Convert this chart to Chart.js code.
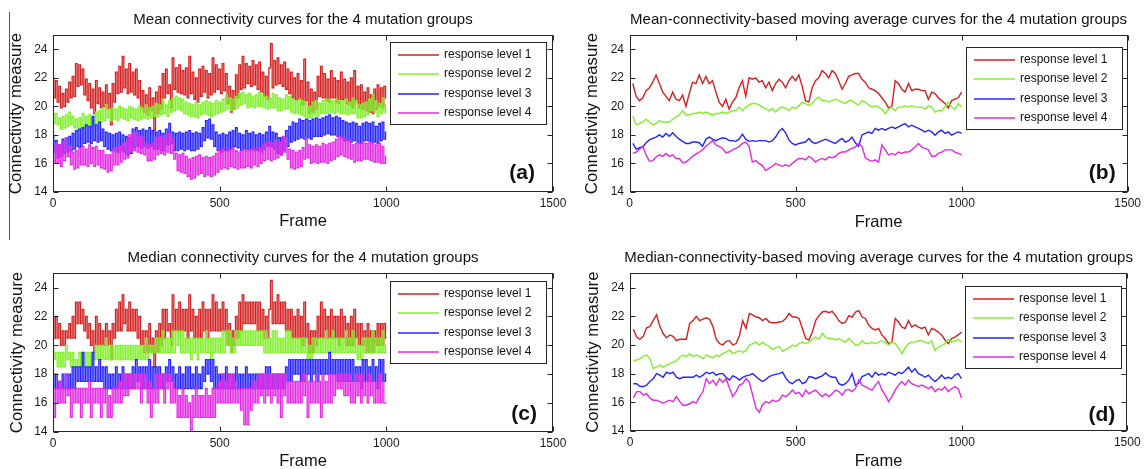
<!DOCTYPE html>
<html><head><meta charset="utf-8">
<script src="https://cdn.jsdelivr.net/npm/chart.js@4.4.1/dist/chart.umd.min.js"></script>
<style>
html,body{margin:0;padding:0;background:#fff;}
body{width:1145px;height:469px;position:relative;overflow:hidden;}
canvas{position:absolute;}
#vline{position:absolute;left:9px;top:12px;width:1px;height:228px;background:#555;}
</style></head><body>
<div id="vline"></div>
<canvas id="pa" width="572" height="245" style="left:0px;top:0px"></canvas>
<canvas id="pb" width="573" height="245" style="left:572px;top:0px"></canvas>
<canvas id="pc" width="572" height="245" style="left:0px;top:235px"></canvas>
<canvas id="pd" width="573" height="245" style="left:572px;top:235px"></canvas>
<script>
// ---------------- DATA ----------------
const seriesLabels = ['response level 1','response level 2','response level 3','response level 4'];
const panelTitles = [
  'Mean connectivity curves for the 4 mutation groups',
  'Mean-connectivity-based moving average curves for the 4 mutation groups',
  'Median connectivity curves for the 4 mutation groups',
  'Median-connectivity-based moving average curves for the 4 mutation groups'
];
const panelTags = ['(a)','(b)','(c)','(d)'];
const xAxisTitle = 'Frame';
const yAxisTitle = 'Connectivity measure';
const xTickValues = [0,500,1000,1500];
const xTickLabels = ['0','500','1000','1500'];
const yTickValues = [14,16,18,20,22,24];
const yTickLabels = ['14','16','18','20','22','24'];

const rawFrames = [
0,5,10,15,20,25,30,35,40,45,50,55,60,65,70,75,80,85,90,95,
100,105,110,115,120,125,130,135,140,145,150,155,160,165,170,175,180,185,190,195,
200,205,210,215,220,225,230,235,240,245,250,255,260,265,270,275,280,285,290,295,
300,305,310,315,320,325,330,335,340,345,350,355,360,365,370,375,380,385,390,395,
400,405,410,415,420,425,430,435,440,445,450,455,460,465,470,475,480,485,490,495,
500,505,510,515,520,525,530,535,540,545,550,555,560,565,570,575,580,585,590,595,
600,605,610,615,620,625,630,635,640,645,650,655,660,665,670,675,680,685,690,695,
700,705,710,715,720,725,730,735,740,745,750,755,760,765,770,775,780,785,790,795,
800,805,810,815,820,825,830,835,840,845,850,855,860,865,870,875,880,885,890,895,
900,905,910,915,920,925,930,935,940,945,950,955,960,965,970,975,980,985,990,995,
1000];

const avgFrames = [
10,20,30,40,50,60,70,80,90,100,110,120,130,140,150,160,170,180,190,200,
210,220,230,240,250,260,270,280,290,300,310,320,330,340,350,360,370,380,390,400,
410,420,430,440,450,460,470,480,490,500,510,520,530,540,550,560,570,580,590,600,
610,620,630,640,650,660,670,680,690,700,710,720,730,740,750,760,770,780,790,800,
810,820,830,840,850,860,870,880,890,900,910,920,930,940,950,960,970,980,990,1000];

// (a) mean connectivity, raw
const meanLevel1 = [
22.0,20.6,21.8,20.3,21.4,19.9,20.9,20.0,21.2,20.3,21.7,20.6,22.1,20.7,23.0,21.4,22.9,21.5,22.6,20.8,
21.9,20.4,21.6,19.9,21.2,19.5,21.8,20.2,21.3,19.9,21.0,20.0,21.5,19.8,20.9,18.7,21.6,20.3,22.4,20.9,
22.8,21.0,23.5,21.3,22.6,20.9,23.0,21.0,22.4,20.8,22.6,20.6,21.8,19.9,21.1,19.6,20.8,19.4,21.3,19.7,
20.6,18.3,21.0,19.5,21.4,19.8,22.3,20.6,22.6,20.9,21.5,19.9,23.4,21.2,22.7,21.0,22.9,20.9,22.5,20.8,
22.7,20.6,23.5,20.9,22.4,20.5,22.0,20.3,22.6,20.7,22.8,21.0,22.5,20.6,22.3,20.8,23.4,21.0,22.9,21.2,
22.6,20.9,23.0,21.1,22.3,20.2,21.4,19.6,21.1,19.8,22.2,20.6,22.9,21.2,23.5,21.3,23.0,21.6,22.8,21.4,
23.2,21.5,22.9,21.2,23.1,21.0,22.4,20.7,22.1,20.5,22.7,24.4,21.3,23.2,21.5,23.4,21.6,22.9,21.4,23.1,
21.2,22.6,20.9,22.4,20.6,22.0,20.4,22.3,20.5,21.8,20.1,23.3,20.4,21.7,19.5,21.2,19.6,21.0,19.8,22.1,
20.7,22.8,20.6,22.3,20.4,21.9,20.3,22.5,20.6,22.0,20.3,21.8,20.2,22.4,20.5,21.9,20.2,21.7,20.1,22.0,
19.9,22.5,20.3,21.4,19.9,21.5,19.8,21.0,19.7,21.3,19.6,20.8,19.5,21.2,19.8,21.5,20.0,21.3,19.9,21.4,
20.6];
const meanLevel2 = [
19.6,18.8,19.5,18.7,19.2,18.4,19.3,18.5,19.4,18.6,19.6,18.7,19.3,18.5,19.1,18.3,19.2,18.4,19.5,18.6,
19.3,18.6,19.4,18.5,19.2,18.7,19.6,18.8,19.7,18.9,19.9,19.0,20.1,19.2,19.8,19.0,19.9,19.1,19.8,19.0,
20.0,19.2,19.9,19.1,19.8,19.0,20.0,19.2,19.9,19.1,19.8,19.0,20.0,19.1,19.9,19.2,20.1,19.1,19.9,19.2,
20.0,19.3,20.2,19.3,20.1,19.4,20.5,19.5,20.1,19.3,20.4,19.6,20.6,19.7,20.7,19.8,20.6,19.7,20.5,19.5,
20.3,19.4,20.2,19.3,20.1,19.3,20.3,19.2,20.1,19.4,20.3,19.5,20.4,19.4,20.3,19.3,20.2,19.4,20.4,19.5,
20.3,19.6,20.5,19.7,20.8,19.8,20.6,19.7,20.5,19.8,20.7,19.9,20.9,20.1,21.0,20.2,20.8,19.9,20.9,20.0,
20.7,19.9,20.8,20.0,21.0,20.0,20.8,19.9,20.7,19.8,20.6,19.9,20.9,19.9,20.8,19.7,20.6,19.7,20.5,19.8,
20.8,19.8,20.7,19.6,20.5,19.5,20.4,19.5,20.5,19.4,20.4,19.3,20.3,19.1,20.0,19.2,20.3,19.4,20.4,19.3,
20.2,19.5,20.4,19.5,20.5,19.5,20.5,19.6,20.4,19.5,20.5,19.6,20.4,19.5,20.4,19.5,20.5,19.4,20.3,19.5,
20.6,19.5,20.4,19.2,20.1,19.2,20.2,19.3,20.3,19.4,20.5,19.7,20.8,19.6,20.4,19.3,20.2,19.5,20.6,19.6,
20.1];
const meanLevel3 = [
17.9,16.8,17.6,16.4,17.3,16.5,17.7,16.7,17.8,16.8,17.9,16.9,18.1,17.0,18.3,17.2,18.4,17.2,18.5,17.4,
18.7,17.5,18.6,17.4,19.3,17.6,18.7,17.5,18.9,17.6,18.4,17.2,18.2,17.0,18.1,16.9,18.0,16.9,18.1,16.8,
18.2,16.9,18.0,16.8,17.9,16.6,17.8,16.7,18.4,17.1,18.5,17.2,18.3,17.1,18.4,17.2,18.3,17.1,18.5,17.2,
18.3,17.0,18.2,17.0,18.3,16.9,18.1,16.9,18.4,17.3,18.8,17.4,18.2,16.9,18.1,16.9,18.2,17.0,18.1,16.9,
18.2,17.0,18.3,16.9,18.1,16.9,18.2,17.0,18.1,17.2,18.5,17.6,19.0,17.8,19.1,17.7,18.7,17.2,18.2,16.9,
18.0,16.8,18.1,16.9,18.0,16.9,18.2,17.0,18.3,17.2,18.5,17.1,18.1,16.9,18.0,17.0,18.3,17.0,18.1,17.0,
18.2,16.9,18.0,16.9,18.1,16.8,18.0,17.0,18.2,17.2,18.6,17.2,18.2,17.0,18.1,16.7,17.8,16.6,17.8,16.9,
18.3,17.2,18.6,17.5,18.9,17.6,18.8,17.7,19.1,17.8,19.0,17.7,19.1,17.8,19.0,17.7,19.1,17.9,19.2,17.9,
19.1,17.9,19.2,18.0,19.3,18.1,19.4,18.0,19.2,18.0,19.3,17.9,19.2,17.8,19.0,17.6,18.9,17.6,18.8,17.5,
18.9,17.6,18.8,17.5,18.6,17.4,18.8,17.6,18.9,17.6,18.8,17.5,18.9,17.5,18.6,17.4,18.8,17.6,18.9,17.7,
18.2];
const meanLevel4 = [
17.2,16.1,17.4,16.0,17.3,15.8,17.5,16.2,17.8,16.5,17.2,15.9,16.8,15.6,16.9,15.7,17.1,15.9,17.2,15.9,
17.0,15.8,17.3,16.0,17.1,15.8,17.2,15.9,16.9,15.7,16.9,15.6,16.6,15.4,16.6,15.5,17.0,15.9,17.1,15.9,
17.2,16.1,17.4,16.3,17.5,16.4,18.0,16.8,18.1,16.9,18.2,16.8,17.9,16.7,17.8,16.6,17.4,16.2,17.3,16.2,
17.4,16.3,17.8,16.6,17.9,16.7,17.8,16.6,18.0,16.8,18.1,16.7,17.7,16.3,16.7,15.5,16.6,15.4,16.7,15.3,
16.5,15.1,16.3,14.9,16.4,15.0,16.5,15.2,16.6,15.3,16.4,15.1,16.5,15.2,16.4,15.1,16.5,15.2,16.7,15.4,
16.9,15.6,17.0,15.7,16.9,15.6,17.0,15.8,17.1,15.7,16.9,15.6,16.8,15.7,17.0,15.7,16.9,15.8,16.9,15.7,
17.1,15.9,17.0,15.8,17.1,16.0,17.3,16.2,17.4,16.3,17.5,16.2,17.4,16.3,17.6,16.4,17.5,16.6,17.9,16.8,
17.8,16.3,17.0,15.7,16.9,15.6,16.8,15.7,16.9,15.8,17.1,16.3,17.8,16.4,17.3,16.0,17.2,16.1,17.3,16.0,
17.2,16.1,17.4,16.1,17.3,16.0,17.4,16.2,17.5,16.3,17.7,16.5,17.9,16.6,17.8,16.5,17.7,16.4,17.6,16.3,
17.3,16.1,17.4,16.2,17.4,16.2,17.5,16.3,17.4,16.3,17.5,16.2,17.4,16.1,17.3,16.1,17.4,16.0,17.2,16.0,
16.5];

// (b) moving averages of mean connectivity
const meanMA1 = [
21.6,20.7,20.4,20.6,21.1,21.3,21.7,22.2,21.6,21.0,
20.7,20.4,21.0,20.5,20.4,20.8,20.0,20.9,21.7,21.6,
22.2,21.6,22.1,21.6,21.8,21.0,20.3,20.0,20.5,19.8,
20.3,20.6,21.3,21.8,20.7,22.0,21.9,22.0,21.7,21.8,
21.3,21.7,21.1,21.6,21.9,21.7,21.3,21.8,22.1,21.8,
22.2,21.4,20.4,20.3,21.3,21.8,22.0,22.5,22.3,22.0,
22.5,22.3,21.8,21.2,21.6,22.1,22.2,22.3,22.3,21.9,
21.7,21.3,21.2,21.1,20.9,20.6,20.3,19.9,20.0,21.8,
21.6,21.2,21.0,21.6,21.1,21.2,21.2,21.1,21.1,20.5,
21.0,20.9,20.6,20.4,20.2,19.9,20.4,20.5,20.6,21.0];
const meanMA2 = [
19.3,18.7,18.8,18.9,19.1,18.9,18.7,18.8,19.0,18.9,
18.9,18.9,19.1,19.25,19.4,19.7,19.4,19.4,19.5,19.5,
19.6,19.5,19.6,19.5,19.4,19.5,19.5,19.6,19.5,19.6,
19.7,19.7,19.95,19.7,19.95,20.1,20.2,20.2,20.1,19.95,
19.85,19.7,19.85,19.6,19.85,19.95,19.85,19.7,19.95,19.85,
20.05,20.3,20.2,20.05,20.2,20.5,20.65,20.4,20.4,20.3,
20.4,20.5,20.4,20.3,20.2,20.4,20.4,20.2,20.1,20.4,
20.3,20.1,19.95,20.05,19.95,19.8,19.5,19.8,19.95,19.7,
19.95,19.95,20.05,19.95,20.05,19.95,19.95,19.95,19.8,20.05,
19.95,19.6,19.7,19.7,19.95,20.3,19.95,19.8,20.2,19.95];
const meanMA3 = [
17.4,17.0,17.1,17.15,17.45,17.65,17.75,17.85,18.0,17.85,
18.1,17.9,18.15,17.9,17.7,17.55,17.4,17.4,17.5,17.5,
17.45,17.2,17.7,17.85,17.7,17.6,17.7,17.8,17.75,17.6,
17.6,17.55,17.7,18.05,17.7,17.55,17.6,17.55,17.6,17.6,
17.6,17.5,17.6,17.85,18.25,18.45,18.15,17.65,17.4,17.3,
17.4,17.45,17.5,17.75,17.5,17.4,17.5,17.6,17.7,17.6,
17.5,17.4,17.6,17.75,17.5,17.6,17.85,17.45,17.2,18.0,
18.1,18.2,18.1,18.45,18.33,18.45,18.33,18.45,18.56,18.45,
18.56,18.68,18.79,18.56,18.68,18.56,18.45,18.33,18.21,18.33,
18.21,17.98,18.21,18.33,18.1,18.21,17.98,18.1,18.21,18.1];
const meanMA4 = [
16.7,16.8,17.0,17.2,16.6,16.15,16.2,16.45,16.6,16.5,
16.7,16.5,16.6,16.35,16.35,16.05,16.1,16.3,16.5,16.65,
16.8,16.95,17.2,17.4,17.6,17.3,17.2,17.05,16.75,16.8,
16.95,17.05,17.2,17.4,17.5,17.2,16.1,16.2,16.0,15.85,
15.5,15.65,15.8,16.0,15.9,15.8,15.9,15.8,16.0,16.2,
16.35,16.35,16.25,16.5,16.35,16.1,16.25,16.35,16.25,16.45,
16.4,16.5,16.7,16.8,16.8,16.95,17.05,17.15,17.4,17.2,
16.4,16.25,16.15,16.25,16.1,17.3,16.95,16.6,16.7,16.6,
16.8,16.7,16.8,16.8,16.95,17.15,17.4,17.15,17.05,16.95,
16.5,16.5,16.7,16.8,16.95,16.95,16.95,16.8,16.7,16.6];

// (c) median connectivity, raw
const medianLevel1 = [
22.0,20.5,22.0,20.5,21.5,20.0,21.0,20.0,21.0,20.5,21.5,20.5,22.0,20.5,23.0,21.5,23.0,21.5,22.5,21.0,
22.0,20.5,21.5,20.0,21.0,19.5,22.0,20.0,21.5,20.0,21.0,20.0,21.5,20.0,21.0,19.0,21.5,20.5,22.5,21.0,
23.0,21.0,23.5,21.5,22.5,21.0,23.0,21.0,22.5,21.0,22.5,20.5,22.0,20.0,21.0,19.5,21.0,19.5,21.5,19.5,
20.5,18.5,21.0,19.5,21.5,20.0,22.5,20.5,22.5,21.0,21.5,20.0,23.5,21.0,22.5,21.0,23.0,21.0,22.5,21.0,
22.5,20.5,23.5,21.0,22.5,20.5,22.0,20.5,22.5,20.5,23.0,21.0,22.5,20.5,22.5,21.0,23.5,21.0,23.0,21.0,
22.5,21.0,23.0,21.0,22.5,20.0,21.5,19.5,21.0,20.0,22.0,20.5,23.0,21.0,23.5,21.5,23.0,21.5,23.0,21.5,
23.0,21.5,23.0,21.0,23.0,21.0,22.5,20.5,22.0,20.5,22.5,24.5,21.5,23.0,21.5,23.5,21.5,23.0,21.5,23.0,
21.0,22.5,21.0,22.5,20.5,22.0,20.5,22.5,20.5,22.0,20.0,23.0,20.5,21.5,19.5,21.0,19.5,21.0,20.0,22.0,
20.5,23.0,20.5,22.5,20.5,22.0,20.5,22.5,20.5,22.0,20.5,22.0,20.0,22.5,20.5,22.0,20.0,21.5,20.0,22.0,
20.0,22.5,20.5,21.5,20.0,21.5,20.0,21.0,19.5,21.5,19.5,21.0,19.5,21.0,20.0,21.5,20.0,21.5,20.0,21.5,
20.5];
const medianLevel2 = [
20.0,19.0,19.5,18.5,19.5,18.5,19.5,18.5,20.0,19.0,19.5,18.5,19.5,18.5,19.0,18.5,19.5,18.5,19.5,18.5,
19.5,18.5,19.5,18.5,19.5,19.0,20.0,19.0,20.0,19.0,20.0,19.0,20.5,19.0,20.0,19.0,20.0,19.0,20.0,19.0,
20.0,19.0,20.0,19.0,20.0,19.0,20.0,19.0,20.0,19.0,20.0,19.0,20.0,19.0,20.0,19.0,20.5,19.0,20.0,19.5,
20.0,19.5,20.5,19.5,20.5,19.5,21.0,19.5,20.5,19.5,20.5,19.5,21.0,19.5,21.0,20.0,21.0,19.5,21.0,19.5,
20.5,19.5,20.5,19.0,20.5,19.5,20.5,19.0,20.5,19.5,20.5,19.5,21.0,19.5,20.5,19.0,20.5,19.5,20.5,19.5,
20.5,19.5,21.0,19.5,21.0,20.0,21.0,19.5,20.5,19.5,21.0,20.0,21.0,20.0,21.0,20.0,21.0,20.0,21.0,20.0,
21.0,20.0,21.0,20.0,21.0,20.0,21.0,19.5,21.0,19.5,20.5,19.5,21.0,19.5,21.0,19.5,20.5,19.5,20.5,19.5,
21.0,19.5,21.0,19.5,20.5,19.5,20.5,19.5,20.5,19.5,20.5,19.5,20.5,19.0,20.0,19.0,20.5,19.5,20.5,19.5,
20.5,19.5,20.5,19.5,21.0,19.5,20.5,19.5,21.0,19.5,20.5,19.5,20.5,19.5,20.5,19.5,21.0,19.5,20.5,19.5,
21.0,19.5,20.5,19.0,20.0,19.0,20.5,19.5,20.5,19.5,20.5,19.5,21.0,19.5,20.5,19.5,20.5,19.5,21.0,19.5,
20.0];
const medianLevel3 = [
18.0,17.0,18.0,17.0,17.5,17.0,18.0,17.0,18.0,17.0,18.0,17.0,18.5,17.0,18.5,17.5,18.5,17.5,19.5,17.5,
18.5,17.5,18.5,17.5,19.5,17.5,18.5,17.5,19.0,17.5,18.5,17.0,18.5,17.0,18.0,17.0,18.0,17.0,18.5,17.0,
18.0,17.0,18.5,17.0,18.0,17.0,18.0,17.0,18.5,17.0,19.0,17.5,18.5,17.0,18.5,17.0,18.5,17.0,19.0,17.0,
18.5,17.0,18.5,17.0,18.5,17.0,18.0,17.0,18.5,17.5,19.0,17.5,18.5,17.0,18.0,17.0,18.5,17.0,18.0,17.0,
18.5,17.0,18.5,17.0,18.0,17.0,18.5,17.0,18.0,17.0,18.5,17.5,19.0,18.0,19.0,17.5,19.0,17.0,18.5,17.0,
18.0,17.0,18.0,17.0,18.5,17.0,18.0,17.0,18.0,17.0,18.5,17.0,18.0,17.0,18.0,17.0,18.5,17.0,18.0,17.0,
18.0,17.0,18.0,17.0,18.0,17.0,18.0,17.0,18.5,17.0,18.5,17.0,18.0,17.0,18.0,17.0,18.0,17.0,18.0,17.0,
18.5,17.5,19.0,17.5,19.0,18.0,19.0,18.0,19.0,17.5,19.0,17.5,19.0,18.0,19.0,17.5,19.0,18.0,19.0,17.5,
19.0,18.0,19.0,18.0,19.0,18.0,19.5,18.0,19.0,18.0,19.0,17.5,19.0,17.5,19.0,17.5,19.0,17.5,19.0,17.5,
19.0,17.5,18.5,17.5,18.5,17.0,19.0,17.5,19.0,17.5,18.5,17.5,19.0,17.5,18.5,17.0,19.0,17.5,19.0,17.5,
18.0];
const medianLevel4 = [
17.0,15.0,17.0,16.0,17.5,16.0,17.0,16.0,18.0,16.5,17.0,15.0,17.0,16.0,17.0,16.0,17.0,15.0,17.0,16.0,
17.0,16.0,17.5,15.0,17.0,16.0,17.0,16.0,17.0,15.0,17.0,16.0,17.0,15.0,16.5,15.0,17.0,16.0,17.0,16.0,
17.5,16.0,18.0,16.5,18.0,16.5,18.0,17.0,18.0,17.0,18.0,17.0,18.0,16.0,18.0,17.0,18.0,16.0,17.5,15.0,
17.0,16.0,18.0,16.0,18.0,17.0,18.0,16.0,18.0,17.0,18.0,16.0,17.5,16.0,17.0,15.0,16.5,15.0,17.0,15.0,
16.5,15.0,16.0,14.0,16.5,15.0,17.0,15.0,16.5,15.0,16.5,15.0,17.0,15.0,16.5,15.0,17.0,15.0,17.0,16.0,
17.5,16.0,18.0,16.0,17.5,16.0,18.0,16.0,18.0,16.0,17.5,16.0,17.0,15.5,17.0,14.5,17.0,14.5,17.0,15.5,
17.5,16.0,17.5,16.0,18.0,16.5,18.0,16.0,18.0,16.5,18.0,16.0,18.0,16.5,18.0,16.0,18.0,15.0,18.0,16.5,
18.0,16.0,17.5,16.0,17.5,16.0,17.5,16.0,17.5,16.0,18.0,16.5,18.0,15.0,17.5,16.0,17.5,16.0,18.0,16.0,
17.5,15.0,18.0,16.0,17.5,16.0,18.0,16.0,18.0,16.5,18.0,17.0,18.0,17.0,18.0,16.5,18.0,16.5,18.0,16.0,
17.5,16.0,18.0,16.5,18.0,16.0,18.0,16.5,17.5,16.0,18.0,16.5,17.5,16.0,17.5,16.0,18.0,16.0,17.5,16.0,
16.0];

// (d) moving averages of median connectivity
const medianMA1 = [
21.1,20.55,20.4,20.6,21.2,21.3,21.7,22.1,21.3,20.8,
20.5,20.7,20.6,20.3,20.4,20.4,20.4,21.5,21.7,22.0,
21.7,21.8,21.9,21.8,21.3,20.4,20.1,20.0,20.25,20.3,
20.0,20.1,20.65,21.7,21.15,22.2,22.1,21.95,21.9,21.7,
21.85,21.6,21.55,21.55,21.6,21.65,21.85,22.2,21.95,21.95,
21.85,21.15,20.45,20.35,20.9,21.7,22.05,22.3,22.35,22.25,
22.35,22.05,21.7,21.5,21.6,22.05,21.95,22.3,22.4,21.95,
21.85,21.4,21.15,21.05,21.15,20.7,20.45,20.1,20.2,21.85,
21.6,21.25,21.15,21.7,21.25,21.4,21.25,21.15,21.25,20.7,
21.15,21.05,20.9,20.7,20.35,20.1,20.45,20.55,20.7,20.9];
const medianMA2 = [
18.9,18.95,19.05,19.2,19.3,19.05,18.35,18.45,18.6,18.45,
18.6,18.7,18.8,18.9,19.15,19.3,19.2,19.4,19.2,19.3,
19.2,19.05,19.3,19.2,19.1,19.3,19.2,19.4,19.5,19.65,
19.4,19.5,19.6,19.5,19.6,20.0,20.1,20.2,20.0,20.2,
20.0,19.9,19.7,19.8,19.9,19.55,19.7,19.8,20.0,19.9,
20.1,20.2,20.1,20.2,20.4,20.55,20.4,20.8,20.55,20.45,
20.45,20.35,20.45,20.3,20.2,20.45,20.25,20.0,20.0,20.3,
20.1,20.1,20.2,20.1,20.2,20.3,20.2,20.0,20.2,20.1,
19.8,19.4,19.8,20.1,20.2,20.2,20.3,20.3,20.2,20.1,
20.3,19.6,19.85,19.95,20.1,20.4,20.2,20.3,20.4,20.2];
const medianMA3 = [
17.3,17.3,17.1,17.1,17.2,17.45,17.65,18.0,17.9,17.75,
18.1,18.0,18.1,17.75,17.65,17.75,17.75,17.75,17.75,17.9,
17.75,17.9,18.1,18.0,18.1,17.9,18.0,18.0,17.75,17.55,
17.85,17.75,17.55,17.75,17.85,17.9,18.0,17.8,17.6,17.45,
17.6,17.8,17.9,17.95,18.0,18.1,17.7,17.4,17.3,17.5,
17.6,17.3,17.4,17.8,17.75,17.65,17.75,17.85,18.05,17.85,
17.75,17.75,17.3,17.2,17.3,17.55,18.0,17.2,17.35,17.8,
17.9,18.0,17.75,18.1,17.9,18.0,17.9,18.1,18.0,17.9,
18.1,18.0,18.2,18.45,18.1,18.35,18.0,17.9,17.75,17.9,
17.65,17.45,17.65,17.9,17.65,17.75,17.65,17.9,18.0,17.65];
const medianMA4 = [
16.3,16.75,16.75,16.5,16.6,16.3,16.15,16.15,16.05,15.95,
16.05,16.15,16.05,16.4,16.05,15.8,15.8,15.9,16.05,15.95,
16.4,16.75,17.65,17.3,17.55,17.2,17.65,17.4,17.65,17.0,
16.4,16.75,17.2,17.3,17.65,17.4,16.5,15.6,15.3,15.85,
16.05,15.95,16.15,16.05,16.15,16.5,16.4,16.6,16.85,16.6,
16.7,16.4,16.85,16.6,16.75,16.85,16.6,16.4,16.6,16.4,
16.6,16.85,16.75,16.5,16.85,16.9,16.75,16.95,17.55,17.2,
17.1,16.95,16.85,17.2,17.45,16.85,16.5,16.05,16.4,16.85,
17.2,17.45,17.2,17.55,17.3,17.2,17.1,17.2,17.1,16.95,
17.1,16.75,16.95,16.85,17.1,16.75,16.95,17.1,16.95,16.3];

// ---------------- STYLE / LAYOUT ----------------
const seriesColors = ['#d42020','#80f02a','#2323ff','#e428e4'];
const FONT = '"Liberation Sans", Arial, Helvetica, sans-serif';
Chart.defaults.font.family = FONT;
Chart.defaults.color = '#1a1a1a';

const panels = [
  {id:'pa', frames: rawFrames, series:[meanLevel1,meanLevel2,meanLevel3,meanLevel4], raw:true,
   area:{left:53,top:35,right:553,bottom:192}, titleY:20, xTitleBottom:13.4, xTickPad:4, yTitleX:16.3,
   legendRight:7, legendTop:7.3, tagRight:18, tagBottom:19},
  {id:'pb', frames: avgFrames, series:[meanMA1,meanMA2,meanMA3,meanMA4], raw:false,
   area:{left:57.5,top:35,right:558,bottom:192}, titleY:20, xTitleBottom:12.4, xTickPad:4, yTitleX:20.7,
   legendRight:6, legendTop:12.3, tagRight:12, tagBottom:19},
  {id:'pc', frames: rawFrames, series:[medianLevel1,medianLevel2,medianLevel3,medianLevel4], raw:true,
   area:{left:53,top:38.3,right:553,bottom:196.7}, titleY:22.7, xTitleBottom:8.4, xTickPad:4.4, yTitleX:17.3,
   legendRight:7, legendTop:7.4, tagRight:16, tagBottom:17},
  {id:'pd', frames: avgFrames, series:[medianMA1,medianMA2,medianMA3,medianMA4], raw:false,
   area:{left:58,top:38.3,right:558,bottom:196}, titleY:22.7, xTitleBottom:8.4, xTickPad:4.4, yTitleX:21.3,
   legendRight:6, legendTop:12.7, tagRight:12, tagBottom:16}
];

function buildPanel(p, idx) {
  const canvas = document.getElementById(p.id);
  const W = canvas.width, H = canvas.height, area = p.area;
  const datasets = p.series.map((vals, i) => ({
    label: seriesLabels[i],
    data: p.frames.map((f, k) => ({x: f, y: vals[k]})),
    borderColor: seriesColors[i],
    backgroundColor: seriesColors[i],
    borderWidth: p.raw ? 1.3 : 1.4,
    pointRadius: 0,
    fill: false,
    tension: 0,
    stepped: p.raw ? 'middle' : false,
    order: 4 - i
  }));
  const framePlugin = {
    id: 'matlabFrame' + idx,
    afterDraw(chart) {
      const ctx = chart.ctx, a = chart.chartArea, xs = chart.scales.x, ys = chart.scales.y;
      ctx.save();
      // title centred over the axes box
      ctx.font = '15px ' + FONT; ctx.fillStyle = '#111';
      ctx.textAlign = 'center'; ctx.textBaseline = 'middle';
      ctx.fillText(panelTitles[idx], (a.left + a.right) / 2, p.titleY);
      // axes box + inward ticks
      ctx.strokeStyle = '#262626'; ctx.lineWidth = 1;
      const L = Math.round(a.left) + 0.5, R = Math.round(a.right) - 0.5;
      const T = Math.round(a.top) + 0.5, B = Math.round(a.bottom) - 0.5;
      ctx.strokeRect(L, T, R - L, B - T);
      ctx.beginPath();
      xs.ticks.forEach(t => {
        const px = Math.round(xs.getPixelForValue(t.value)) + 0.5;
        ctx.moveTo(px, B); ctx.lineTo(px, B - 5);
        ctx.moveTo(px, T); ctx.lineTo(px, T + 5);
      });
      ys.ticks.forEach(t => {
        const py = Math.round(ys.getPixelForValue(t.value)) + 0.5;
        ctx.moveTo(L, py); ctx.lineTo(L + 5, py);
        ctx.moveTo(R, py); ctx.lineTo(R - 5, py);
      });
      ctx.stroke();
      // y axis title
      ctx.save();
      ctx.translate(p.yTitleX, (a.top + a.bottom) / 2);
      ctx.rotate(-Math.PI / 2);
      ctx.font = '16.8px ' + FONT;
      ctx.fillStyle = '#111'; ctx.textAlign = 'center'; ctx.textBaseline = 'middle';
      ctx.fillText(yAxisTitle, 0, 0);
      ctx.restore();
      // legend
      const lw = 156, lh = 82;
      const lx = Math.round(a.right - p.legendRight - lw), ly = Math.round(a.top + p.legendTop);
      ctx.fillStyle = '#fff'; ctx.fillRect(lx, ly, lw, lh);
      ctx.strokeStyle = '#262626'; ctx.lineWidth = 1;
      ctx.strokeRect(lx + 0.5, ly + 0.5, lw, lh);
      chart.data.datasets.forEach((ds, i) => {
        const ry = Math.round(ly + 13 + i * 19.3);
        ctx.strokeStyle = ds.borderColor; ctx.lineWidth = 1.6;
        ctx.beginPath(); ctx.moveTo(lx + 8, ry); ctx.lineTo(lx + 49, ry); ctx.stroke();
        ctx.fillStyle = '#111'; ctx.font = '12px ' + FONT;
        ctx.textAlign = 'left'; ctx.textBaseline = 'middle';
        ctx.fillText(ds.label, lx + 54, ry);
      });
      // panel tag
      ctx.font = 'bold 21px ' + FONT; ctx.fillStyle = '#111';
      ctx.textAlign = 'right'; ctx.textBaseline = 'middle';
      ctx.fillText(panelTags[idx], a.right - p.tagRight, a.bottom - p.tagBottom);
      ctx.restore();
    }
  };
  new Chart(canvas, {
    type: 'line',
    data: {datasets},
    options: {
      responsive: false, animation: false, devicePixelRatio: 1, events: [],
      layout: {padding: {left: 0, top: area.top, right: W - area.right, bottom: 0}},
      plugins: {
        legend: {display: false}, tooltip: {enabled: false}, title: {display: false}
      },
      scales: {
        x: {type: 'linear', min: 0, max: 1500, position: 'bottom',
            afterBuildTicks: s => { s.ticks = xTickValues.map(v => ({value: v})); },
            afterFit: s => { s.height = H - area.bottom; },
            ticks: {callback: (v, i) => xTickLabels[i], font: {size: 12}, padding: p.xTickPad,
                    maxRotation: 0, autoSkip: false, color: '#1a1a1a'},
            grid: {display: false, drawTicks: false}, border: {display: false},
            title: {display: true, text: xAxisTitle, color: '#111', font: {size: 16.5, lineHeight: 1.2},
                    padding: {top: 0, bottom: p.xTitleBottom}}},
        y: {type: 'linear', min: 14, max: 25, position: 'left',
            afterBuildTicks: s => { s.ticks = yTickValues.map(v => ({value: v})); },
            afterFit: s => { s.width = area.left; },
            ticks: {callback: (v, i) => yTickLabels[i], font: {size: 12}, padding: 5.5, color: '#1a1a1a'},
            grid: {display: false, drawTicks: false}, border: {display: false},
            title: {display: false}}
      }
    },
    plugins: [framePlugin]
  });
}
panels.forEach(buildPanel);
</script>
</body></html>
